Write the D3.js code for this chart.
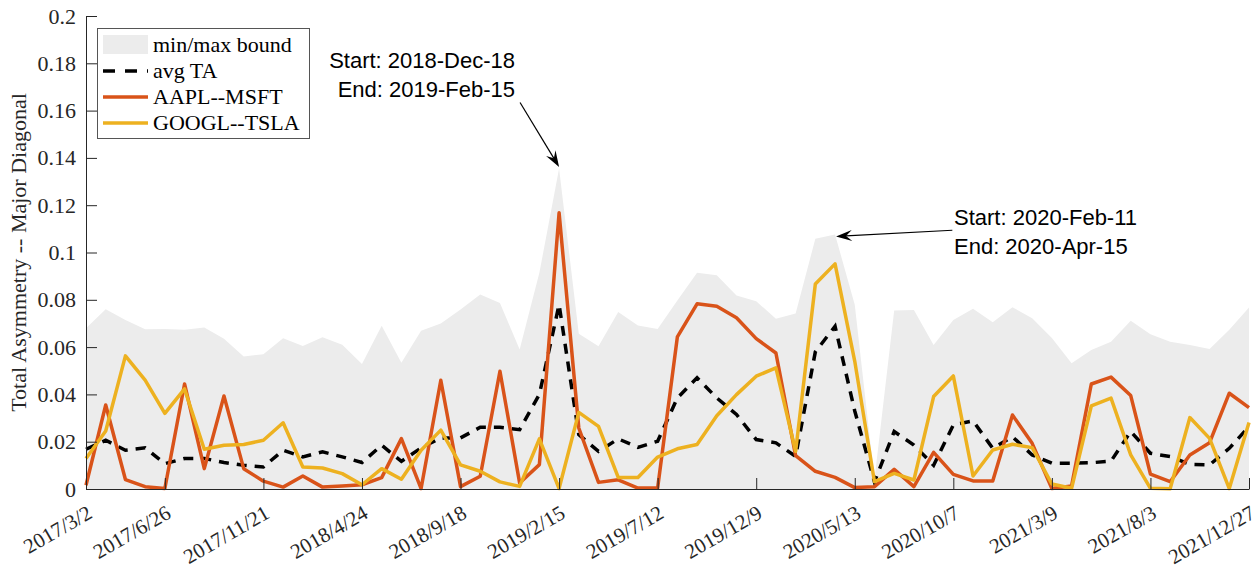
<!DOCTYPE html>
<html><head><meta charset="utf-8">
<script src="https://cdn.jsdelivr.net/npm/d3@7"></script>
<style>body{margin:0;background:#fff} svg{display:block}</style>
</head><body><svg id="c" width="1258" height="569"></svg>
<script>
// ---------- data ----------
const tickIndex = [0, 4, 9, 14, 19, 24, 29, 34, 39, 44, 49, 54, 59];
const tickLabels = ["2017/3/2","2017/6/26","2017/11/21","2018/4/24","2018/9/18","2019/2/15",
  "2019/7/12","2019/12/9","2020/5/13","2020/10/7","2021/3/9","2021/8/3","2021/12/27"];
const yTicks = [0, 0.02, 0.04, 0.06, 0.08, 0.1, 0.12, 0.14, 0.16, 0.18, 0.2];
const yTickLabels = ["0","0.02","0.04","0.06","0.08","0.1","0.12","0.14","0.16","0.18","0.2"];
const seriesNames = ["min/max bound", "avg TA", "AAPL--MSFT", "GOOGL--TSLA"];

const minBound = [0,0,0,0,0,0,0,0,0,0, 0,0,0,0,0,0,0,0,0,0, 0,0,0,0,0,0,0,0,0,0,
  0,0,0,0,0,0,0,0,0,0, 0,0,0,0,0,0,0,0,0,0, 0,0,0,0,0,0,0,0,0,0];
const maxBound = [0.068,0.076,0.0715,0.0676,0.0677,0.0673,0.0683,0.0635,0.056,0.057,
  0.0637,0.0605,0.0642,0.061,0.0529,0.069,0.0534,0.0669,0.070,0.0759,
  0.0822,0.0787,0.059,0.0914,0.1355,0.0656,0.0604,0.0748,0.0691,0.0677,
  0.0797,0.0914,0.0904,0.0818,0.0794,0.072,0.0742,0.1058,0.1076,0.0779,
  0.004,0.0755,0.0757,0.0609,0.0715,0.0762,0.0705,0.0769,0.0722,0.0638,
  0.0532,0.0588,0.0623,0.0711,0.0654,0.0623,0.0609,0.0592,0.0673,0.0767];
const avgTA = [0.0168,0.0206,0.0164,0.0174,0.0107,0.0129,0.0129,0.0112,0.010,0.0093,
  0.0164,0.0136,0.0157,0.0136,0.0112,0.0185,0.0117,0.0174,0.0216,0.0216,
  0.0261,0.0261,0.0251,0.040,0.078,0.023,0.0159,0.0212,0.0176,0.0202,
  0.0385,0.047,0.0385,0.0315,0.0209,0.0195,0.0138,0.058,0.0688,0.033,
  0.003,0.0243,0.0186,0.010,0.0271,0.0288,0.0172,0.0221,0.0144,0.0109,
  0.0109,0.0111,0.0118,0.0243,0.0151,0.0137,0.0104,0.0102,0.0172,0.0264];
const aaplMsft = [0.0016,0.0355,0.004,0.001,0.0002,0.0444,0.0086,0.0393,0.0086,0.0033,
  0.0008,0.0055,0.0008,0.0013,0.0018,0.0048,0.0213,0.0002,0.046,0.001,
  0.0054,0.0498,0.0025,0.0103,0.1168,0.0258,0.0028,0.0039,0.0004,0.0004,
  0.0643,0.0783,0.0773,0.0724,0.0636,0.0575,0.0141,0.0075,0.0049,0.0006,
  0.001,0.0083,0.001,0.0155,0.0062,0.0034,0.0034,0.0313,0.0193,0.0002,
  0.0013,0.0444,0.0473,0.0395,0.0063,0.0031,0.0144,0.0196,0.0405,0.0344];
const googlTsla = [0.0129,0.0245,0.0563,0.046,0.032,0.0423,0.0168,0.0185,0.0188,0.0206,
  0.028,0.0093,0.0089,0.0065,0.0018,0.0086,0.0041,0.0164,0.0249,0.0102,
  0.0075,0.003,0.0011,0.0212,0.0002,0.0324,0.0265,0.0049,0.0049,0.0135,
  0.017,0.0188,0.031,0.0399,0.0477,0.0512,0.0159,0.0867,0.0952,0.054,
  0.0031,0.0066,0.0038,0.0391,0.0478,0.0055,0.0165,0.0189,0.0175,0.0021,
  0.0003,0.0351,0.0384,0.0144,0.0003,0.0001,0.0302,0.0214,0.0002,0.0281];
const annot1Lines = ["Start: 2018-Dec-18", "End: 2019-Feb-15"];
const annot2Lines = ["Start: 2020-Feb-11", "End: 2020-Apr-15"];

// ---------- layout ----------
const svg = d3.select("#c");
const L = 86, R = 1249, T = 16, B = 489;
const x = d3.scaleLinear().domain([0, maxBound.length - 1]).range([L, R]);
const y = d3.scaleLinear().domain([0, 0.2]).range([B, T]);
const serif = "'Liberation Serif','Times New Roman',serif";
const sans = "'Liberation Sans',Arial,Helvetica,sans-serif";
const axisCol = "#262626";
const cOrange = "#D95319", cYellow = "#EDB120", cFill = "#ececec";
const LW = 3.5;

const idx = d3.range(maxBound.length);

// band
svg.append("path")
  .attr("d", d3.area().x(i => x(i)).y0(i => y(minBound[i])).y1(i => y(maxBound[i]))(idx))
  .attr("fill", cFill);

const line = arr => d3.line().x(i => x(i)).y(i => y(arr[i]))(idx);
svg.append("path").attr("d", line(avgTA)).attr("fill", "none")
  .attr("stroke", "#000").attr("stroke-width", LW).attr("stroke-dasharray", "10,8");
svg.append("path").attr("d", line(aaplMsft)).attr("fill", "none")
  .attr("stroke", cOrange).attr("stroke-width", LW).attr("stroke-linejoin", "round");
svg.append("path").attr("d", line(googlTsla)).attr("fill", "none")
  .attr("stroke", cYellow).attr("stroke-width", LW).attr("stroke-linejoin", "round");

// axes
const gy = svg.append("g").attr("transform", `translate(${L},0)`)
  .call(d3.axisLeft(y).tickValues(yTicks).tickFormat((d, i) => yTickLabels[i])
    .tickSizeInner(-11).tickSizeOuter(0).tickPadding(10));
const gx = svg.append("g").attr("transform", `translate(0,${B})`)
  .call(d3.axisBottom(x).tickValues(tickIndex).tickFormat((d, i) => tickLabels[i])
    .tickSizeInner(-11).tickSizeOuter(0));
[gy, gx].forEach(g => {
  g.selectAll("path,line").attr("stroke", axisCol).attr("stroke-width", 1);
  g.selectAll("text").attr("fill", axisCol).style("font-family", serif).style("font-size", "22px");
});
gx.selectAll("text").style("font-size", "21px").attr("x", 0).attr("y", 0).attr("dy", 0)
  .attr("text-anchor", "end").attr("transform", "translate(7,28) rotate(-30)");

// y label
svg.append("text").attr("transform", `translate(26,${(T + B) / 2}) rotate(-90)`)
  .attr("text-anchor", "middle").attr("fill", axisCol)
  .style("font-family", serif).style("font-size", "22px")
  .text("Total Asymmetry -- Major Diagonal");

// annotations
function arrow(x1, y1, x2, y2) {
  const a = Math.atan2(y2 - y1, x2 - x1) * 180 / Math.PI;
  const len = Math.hypot(x2 - x1, y2 - y1);
  const g = svg.append("g").attr("transform", `translate(${x2},${y2}) rotate(${a})`);
  g.append("line").attr("x1", -len).attr("y1", 0).attr("x2", -10).attr("y2", 0)
    .attr("stroke", "#000").attr("stroke-width", 1.2);
  g.append("path").attr("d", "M0,0 L-16,-5.5 L-10,0 L-16,5.5 Z").attr("fill", "#000");
}
// arrow 1: from text to the 2019 peak
arrow(x(22.02), y(0.1634), x(24), y(0.1362));
// arrow 2: from text to the 2020 peak
arrow(x(43.95), y(0.1094), x(38.05), y(0.1068));

svg.append("g").selectAll("text").data(annot1Lines).join("text")
  .attr("x", 515).attr("y", (d, i) => 68 + i * 29).attr("text-anchor", "end")
  .style("font-family", sans).style("font-size", "22px").attr("fill", "#000").text(d => d);
svg.append("g").selectAll("text").data(annot2Lines).join("text")
  .attr("x", 954).attr("y", (d, i) => 225 + i * 29).attr("text-anchor", "start")
  .style("font-family", sans).style("font-size", "22px").attr("fill", "#000").text(d => d);

// legend
const lg = svg.append("g");
lg.append("rect").attr("x", 97.5).attr("y", 28.5).attr("width", 212).attr("height", 110)
  .attr("fill", "#fff").attr("stroke", "#555").attr("stroke-width", 1);
const rowY = [45, 71, 97, 123];
lg.append("rect").attr("x", 103).attr("y", 35).attr("width", 45).attr("height", 19).attr("fill", cFill);
lg.append("line").attr("x1", 103).attr("x2", 148).attr("y1", rowY[1]).attr("y2", rowY[1])
  .attr("stroke", "#000").attr("stroke-width", LW).attr("stroke-dasharray", "12,10");
lg.append("line").attr("x1", 103).attr("x2", 148).attr("y1", rowY[2]).attr("y2", rowY[2])
  .attr("stroke", cOrange).attr("stroke-width", LW);
lg.append("line").attr("x1", 103).attr("x2", 148).attr("y1", rowY[3]).attr("y2", rowY[3])
  .attr("stroke", cYellow).attr("stroke-width", LW);
lg.selectAll("text.l").data(seriesNames).join("text").attr("class", "l")
  .attr("x", 153).attr("y", (d, i) => rowY[i] + 7)
  .style("font-family", serif).style("font-size", "22px").attr("fill", "#000").text(d => d);
</script></body></html>
